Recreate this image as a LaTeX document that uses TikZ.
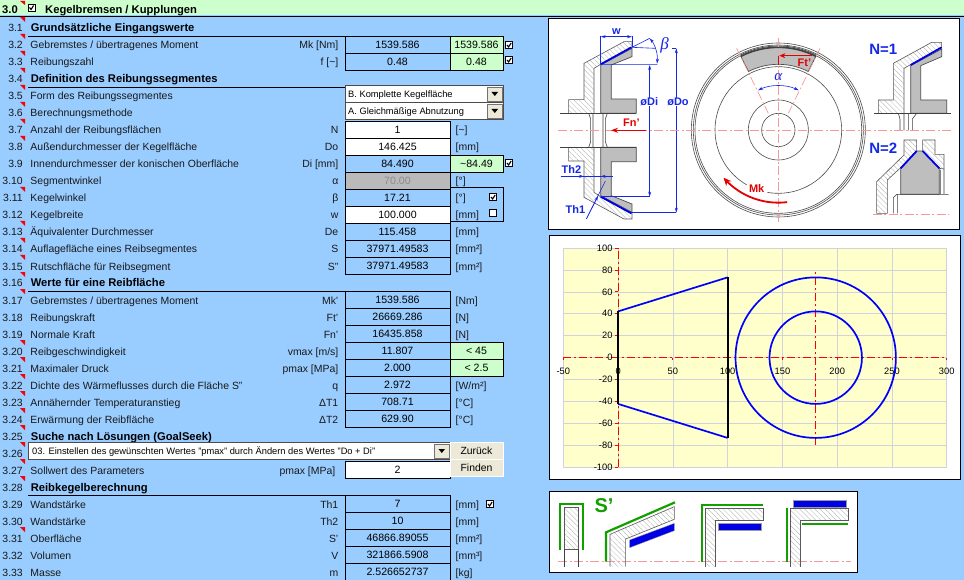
\documentclass[tikz,border=0pt]{standalone}
\usepackage{fontspec}
\setmainfont{Liberation Sans}
\newfontfamily\grk{Liberation Serif}
\usetikzlibrary{patterns.meta,arrows.meta}
\definecolor{bgblue}{HTML}{99CCFF}
\definecolor{lgreen}{HTML}{CCFFCC}
\definecolor{lyellow}{HTML}{FFFFCC}
\definecolor{btn}{HTML}{ECE9D8}
\definecolor{gfill}{HTML}{BEBEBE}
\definecolor{dimblue}{HTML}{1428E6}
\definecolor{sgreen}{HTML}{12A000}
\definecolor{lred}{HTML}{F49A9A}
\definecolor{gridc}{HTML}{D2D2DC}
\tikzset{
 txt/.style={font=\fontsize{10.45}{12}\selectfont,inner sep=0pt,text=black!90},
 lab/.style={txt,anchor=base west},
 num/.style={txt,anchor=base east},
 symb/.style={txt,anchor=base east},
 unit/.style={txt,anchor=base west},
 head/.style={font=\bfseries\fontsize{11.2}{12}\selectfont,inner sep=0pt,anchor=base west},
 cell/.style={draw=black,line width=.8pt,minimum width=105pt,minimum height=17pt,inner sep=0pt,font=\fontsize{10.6}{12}\selectfont,anchor=center},
 gcell/.style={cell,fill=lgreen,minimum width=53pt},
 wcell/.style={cell,fill=white},
 chk/.style={draw=black,fill=white,line width=.9pt,minimum size=7pt,inner sep=0pt},
 tick/.style={chk,path picture={\draw[line width=1.1pt] ([shift={(1.5pt,3.5pt)}]path picture bounding box.south west)--++(1.6pt,-2pt)--++(2.5pt,4pt);}},
 combo/.style={draw=black!70,line width=.6pt,fill=white},
 drop/.style={fill=btn,draw=black!55,line width=.5pt},
 dd/.style={inner sep=0pt,anchor=base west,font=\fontsize{9.3}{11}\selectfont},
 btnn/.style={draw=white,fill=btn,line width=.5pt,inner sep=0pt,font=\fontsize{10.4}{12}\selectfont,minimum width=53pt,minimum height=17pt},
 panel/.style={draw=black,line width=1pt,fill=white},
 thin/.style={draw=black!75,line width=.6pt},
 hatched/.style={draw=black!65,line width=.6pt,pattern={Lines[angle=-45,distance=3.6pt,line width=.3pt]},pattern color=black!32},
 solidg/.style={draw=black!70,line width=.7pt,fill=gfill},
 bthick/.style={draw=blue!90!black,line width=1.8pt},
 dimb/.style={draw=dimblue,line width=.6pt},
 redc/.style={draw=lred,line width=.7pt,dash pattern=on 9pt off 2.5pt on 2pt off 2.5pt},
 axisred/.style={draw=red,line width=.9pt,dash pattern=on 8pt off 3pt on 2pt off 3pt},
 blab/.style={text=dimblue,font=\bfseries\fontsize{11}{12}\selectfont,inner sep=0pt},
 rlab/.style={text=red!90!black,font=\bfseries\fontsize{11}{12}\selectfont,inner sep=0pt},
 nlab/.style={text=dimblue,font=\bfseries\fontsize{15}{16}\selectfont,inner sep=0pt},
 ax/.style={inner sep=0pt,font=\fontsize{9.3}{11}\selectfont},
 sline/.style={draw=sgreen,line width=2.2pt,line join=miter},
 bfill/.style={fill=blue!90!black,draw=black!40,line width=.3pt},
}
\newcommand\cy[1]{\the\numexpr 11+17*#1\relax}
\newcommand\by[1]{\the\numexpr 15+17*#1\relax}
\newcommand\rowt[3]{%
 \node[num] (n#1) at (23,\by{#1}) {3.#1};
 \node[lab] (l#1) at (30.3,\by{#1}) {#2};
 \node[symb] (s#1) at (338.5,\by{#1}) {#3};}
\newcommand\val[3][]{\node[cell,#1] (v#2) at (397.5,\cy{#2}) {#3};}
\newcommand\gv[2]{\node[gcell] (g#1) at (476.5,\cy{#1}) {#2};}
\newcommand\un[2]{\node[unit] (u#1) at (455.5,\by{#1}) {#2};}
\newcommand\hd[3]{%
 \node[num] (n#1) at (23,\by{#1}) {3.#1};
 \node[head] (h#1) at (30.6,\by{#1}) {#2};
 \draw[line width=.8pt] (28,\the\numexpr 19+17*#1\relax.5) -- (#3,\the\numexpr 19+17*#1\relax.5);}
\begin{document}
\begin{tikzpicture}[x=1pt,y=-1pt]
\useasboundingbox (0,0) rectangle (964,580);
\fill[bgblue] (0,0) rectangle (964,580);
% header band
\fill[lgreen] (0,0) rectangle (964,15.5);
\draw[line width=1.6pt] (0,16.4) -- (964,16.4);
\node[head,anchor=base east] (n0) at (18,14) {3.0};
\node[chk,tick] (c0) at (31.5,7.5) {};
\node[head] (h0) at (45,14) {Kegelbremsen / Kupplungen};
% red corner marks
\foreach \k in {1,2,3,4,5,6,7,8,11,13,14,15,16,17,20,21,22,23,24,25,26,27,28,31}{
 \fill[red] (20,\the\numexpr 17*\k\relax) -- (25,\the\numexpr 17*\k\relax) -- (25,\the\numexpr 17*\k+5\relax) -- cycle;}
\fill[red] (20,1) -- (25,1) -- (25,5) -- cycle;
% rows
\hd{1}{Grundsätzliche Eingangswerte}{345}
\rowt{2}{Gebremstes / übertragenes Moment}{Mk [Nm]}
\val{2}{1539.586}\gv{2}{1539.586}\node[chk,tick] (c2) at (509,45) {};
\rowt{3}{Reibungszahl}{f [\textasciitilde]}
\val{3}{0.48}\gv{3}{0.48}\node[chk,tick] (c3) at (509,60) {};
\hd{4}{Definition des Reibungssegmentes}{345}
\rowt{5}{Form des Reibungssegmentes}{}
\draw[combo] (345,85.5) rectangle (503,102.5);
\draw[drop] (487.5,87) rectangle (502,101);
\fill (491.5,92) -- (498,92) -- (494.8,96) -- cycle;
\node[dd] (d5) at (348,97.5) {B. Komplette Kegelfläche};
\rowt{6}{Berechnungsmethode}{}
\draw[combo] (345,102.5) rectangle (503,119.5);
\draw[drop] (487.5,104) rectangle (502,118);
\fill (491.5,109) -- (498,109) -- (494.8,113) -- cycle;
\node[dd] (d6) at (348,114.5) {A. Gleichmäßige Abnutzung};
\rowt{7}{Anzahl der Reibungsflächen}{N}
\val[fill=white]{7}{1}\un{7}{[\textasciitilde]}
\rowt{8}{Außendurchmesser der Kegelfläche}{Do}
\val[fill=white]{8}{146.425}\un{8}{[mm]}
\rowt{9}{Innendurchmesser der konischen Oberfläche}{Di [mm]}
\val{9}{84.490}\gv{9}{\textasciitilde 84.49}\node[chk,tick] (c9) at (509,163) {};
\rowt{10}{Segmentwinkel}{α}
\val[fill=black!27,text=black!45]{10}{70.00}\un{10}{[°]}
\rowt{11}{Kegelwinkel}{β}
\val{11}{17.21}\un{11}{[°]}
\rowt{12}{Kegelbreite}{w}
\val[fill=white]{12}{100.000}\un{12}{[mm]}
\draw[line width=.8pt] (450,187.5) rectangle (503,221.5);
\node[chk,tick] (c11) at (493,197) {};
\node[chk] (c12) at (493,213) {};
\rowt{13}{Äquivalenter Durchmesser}{De}
\val{13}{115.458}\un{13}{[mm]}
\rowt{14}{Auflagefläche eines Reibsegmentes}{S}
\val{14}{37971.49583}\un{14}{[mm²]}
\rowt{15}{Rutschfläche für Reibsegment}{S"}
\val{15}{37971.49583}\un{15}{[mm²]}
\hd{16}{Werte für eine Reibfläche}{450}
\rowt{17}{Gebremstes / übertragenes Moment}{Mk'}
\val{17}{1539.586}\un{17}{[Nm]}
\rowt{18}{Reibungskraft}{Ft'}
\val{18}{26669.286}\un{18}{[N]}
\rowt{19}{Normale Kraft}{Fn'}
\val{19}{16435.858}\un{19}{[N]}
\rowt{20}{Reibgeschwindigkeit}{vmax [m/s]}
\val{20}{11.807}\gv{20}{< 45}
\rowt{21}{Maximaler Druck}{pmax [MPa]}
\val{21}{2.000}\gv{21}{< 2.5}
\rowt{22}{Dichte des Wärmeflusses durch die Fläche S"}{q}
\val{22}{2.972}\un{22}{[W/m²]}
\rowt{23}{Annähernder Temperaturanstieg}{ΔT1}
\val{23}{708.71}\un{23}{[°C]}
\rowt{24}{Erwärmung der Reibfläche}{ΔT2}
\val{24}{629.90}\un{24}{[°C]}
\hd{25}{Suche nach Lösungen (GoalSeek)}{28}
\node[num] (n26) at (23,\by{26}) {3.26};
\draw[combo] (28,442.5) rectangle (450,459.5);
\draw[drop] (434.5,444) rectangle (449,458);
\fill (438.5,449) -- (445,449) -- (441.8,453) -- cycle;
\node[dd] (d26) at (32,454.5) {03. Einstellen des gewünschten Wertes "pmax" durch Ändern des Wertes "Do + Di"};
\node[btnn] (bz) at (476.5,451) {Zurück};
\rowt{27}{Sollwert des Parameters}{}
\node[symb] (s27) at (335.5,\by{27}) {pmax [MPa]};
\val[fill=white]{27}{2}
\node[btnn] (bf) at (476.5,468) {Finden};
\hd{28}{Reibkegelberechnung}{450}
\rowt{29}{Wandstärke}{Th1}
\val{29}{7}\un{29}{[mm]}\node[chk,tick] (c29) at (490,504) {};
\rowt{30}{Wandstärke}{Th2}
\val{30}{10}\un{30}{[mm]}
\rowt{31}{Oberfläche}{S'}
\val{31}{46866.89055}\un{31}{[mm²]}
\rowt{32}{Volumen}{V}
\val{32}{321866.5908}\un{32}{[mm³]}
\rowt{33}{Masse}{m}
\val{33}{2.526652737}\un{33}{[kg]}
% ---------- panel 1
\draw[panel] (548.5,19) rectangle (959.5,229.5);
\begin{scope}[shift={(548,15)},x=.33333pt,y=-.33333pt]
 % upper section
 \path[hatched] (62,295)--(62,254)--(108,254)--(108,145)--(228,80)--(252,80)--(252,97)--(158,148)--(138,160)--(138,295)--cycle;
 \path[solidg] (158,150)--(252,100)--(252,125)--(190,150)--(190,252)--(265,252)--(265,295)--(158,295)--cycle;
 % lower section
 \path[hatched] (62,397)--(62,438)--(108,438)--(108,547)--(228,612)--(252,612)--(252,595)--(158,545)--(138,532)--(138,397)--cycle;
 \path[solidg] (158,542)--(252,592)--(252,567)--(190,542)--(190,440)--(265,440)--(265,397)--(158,397)--cycle;
 \draw[thin] (35,295)--(265,295) (35,397)--(265,397);
 \draw[thin] (122,295)--(128,312)--(128,380)--(122,397) (135,295)--(135,397);
 \draw[thin] (178,295)--(172,312)--(172,380)--(178,397) (165,295)--(165,397);
 \draw[bthick] (158,148)--(250,97) (158,545)--(250,595);
 % dims
 \draw[dimb,{Stealth[length=5pt,width=3pt]}-{Stealth[length=5pt,width=3pt]}] (158,65)--(252,65);
 \draw[dimb] (158,62)--(158,148) (252,62)--(252,97);
 \node[blab] (tw) at (205,50) {w};
 \draw[dimb] (252,97)--(305,70) (158,148)--(328,148) (252,97)--(322,100);
 \draw[dimb,{Stealth[length=5pt,width=3pt]}-{Stealth[length=5pt,width=3pt]}] (305,70) .. controls (322,90) and (330,120) .. (327,146);
 \node[text=dimblue,font=\grk\itshape\fontsize{17}{18}\selectfont,inner sep=0pt] (tb) at (350,92) {β};
 \draw[dimb,{Stealth[length=5pt,width=3pt]}-{Stealth[length=5pt,width=3pt]}] (305,150)--(305,545);
 \draw[dimb] (158,545)--(305,545);
 \draw[dimb,{Stealth[length=5pt,width=3pt]}-{Stealth[length=5pt,width=3pt]}] (385,100)--(385,593);
 \draw[dimb] (372,100)--(385,100) (250,593)--(385,593);
 \node[blab,fill=white,inner xsep=.5pt] (tdi) at (304,260) {øDi};
 \node[blab,fill=white,inner xsep=.5pt] (tdo) at (390,260) {øDo};
 \node[rlab] (tfn) at (250,322) {Fn'};
 \node[blab] (th2) at (70,465) {Th2};
 \draw[dimb] (38,484)--(195,484);
 \draw[dimb,-{Stealth[length=5pt,width=3pt]}] (80,484)--(108,484);
 \draw[dimb,-{Stealth[length=5pt,width=3pt]}] (185,484)--(158,484);
 \node[blab] (th1) at (82,583) {Th1};
 \draw[dimb] (115,612)--(172,498);
 \draw[dimb,-{Stealth[length=5pt,width=3pt]}] (115,612)--(150,543);
\end{scope}
\begin{scope}[shift={(680,15)},x=.33333pt,y=-.33333pt]
 % main disc
 \foreach \r in {261,255,250}{\draw[black!70,line width=.6pt] (295,345) circle[radius=\r];}
 \path[solidg] plot[domain=-117:-63,samples=25] ({295+252*cos(\x)},{345+252*sin(\x)}) -- plot[domain=-63:-117,samples=25] ({295+197*cos(\x)},{345+197*sin(\x)}) -- cycle;
 \draw[black!75,line width=1.6pt] plot[domain=-117:-63,samples=25] ({295+248*cos(\x)},{345+248*sin(\x)});
 \draw[black!70,line width=.6pt] plot[domain=100:-240,samples=90] ({295+190*cos(\x)},{345+190*sin(\x)});
 \draw[black!70,line width=.6pt] (295,345) circle[radius=90];
 \draw[black!70,line width=.6pt] (295,345) circle[radius=50];
 \draw[redc] (295,70)--(295,620);
 \draw[redc] (170,100)--(265,295) (420,100)--(325,295);
 \draw[red!90!black,line width=.8pt,-{Stealth[length=6pt,width=5pt]}] (395,122)--(298,122);
 \draw[red!90!black,line width=.8pt] (295,122)--(295,150);
 \node[rlab] (tft) at (373,142) {Ft'};
 \node[text=dimblue,font=\grk\itshape\fontsize{15}{16}\selectfont,inner sep=0pt] (ta) at (295,185) {α};
 \draw[dimb,{Stealth[length=5pt,width=3pt]}-{Stealth[length=5pt,width=3pt]}] (234,226) .. controls (270,208) and (320,208) .. (356,226);
 \node[rlab] (tmk) at (230,520) {Mk};
 \draw[red!90!black,line width=1.8pt,-{Stealth[length=8pt,width=7pt]}] plot[domain=83:139,samples=30] ({295+218*cos(\x)},{345+218*sin(\x)});
 % N=1
 \node[nlab] (tn1) at (610,103) {N=1};
 \path[hatched] (595,295)--(595,255)--(640,255)--(640,145)--(755,82)--(785,82)--(785,97)--(690,150)--(672,160)--(672,295)--cycle;
 \path[solidg] (692,152)--(785,102)--(785,125)--(722,152)--(722,255)--(800,255)--(800,295)--(692,295)--cycle;
 \draw[bthick] (692,150)--(785,97);
 \draw[thin] (582,295)--(812,295);
 \draw[thin] (655,295)--(660,312)--(660,346) (672,295)--(672,346) (697,346)--(697,312)--(710,295) (685,295)--(685,346);
 % N=2
 \node[nlab] (tn2) at (610,400) {N=2};
 \path[hatched] (672,375)--(710,375)--(710,408)--(660,460)--(622,495)--(622,595)--(590,595)--(590,500)--(672,420)--cycle;
 \path[hatched] (728,375)--(765,375)--(765,418)--(792,418)--(792,462)--(778,460)--(728,408)--cycle;
 \path[solidg] (662,460)--(710,408)--(728,408)--(778,460)--(778,538)--(662,538)--cycle;
 \draw[bthick] (662,460)--(710,408) (728,408)--(778,460);
 \draw[thin] (782,465)--(782,538) (792,462)--(792,538) (650,538)--(806,538) (640,595)--(640,548)--(650,538) (652,595)--(652,540);
 \draw[redc] (578,597)--(808,597);
\end{scope}
% centre line across panel 1
\draw[redc] (558,130.3)--(953,130.3);
\draw[red!90!black,line width=1.4pt,-{Stealth[length=7pt,width=5pt]}] (646,130.3)--(611,130.3);
% ---------- panel 2 chart
\draw[panel] (549,235.5) rectangle (960,479.5);
\fill[lyellow] (563.3,248) rectangle (946.7,467.3);
\begin{scope}[shift={(618.1,357.65)},x=1.0954pt,y=1.0965pt]
 \foreach \v in {-50,0,50,...,300}{\draw[gridc,line width=.7pt] (\v,-100)--(\v,100);}
 \foreach \v in {-100,-80,...,100}{\draw[gridc,line width=.7pt] (-50,\v)--(300,\v);}
 \draw[axisred] (-50,0)--(300,0);
 \draw[axisred] (0,-100)--(0,100);
 \draw[axisred] (180.4,-80)--(180.4,80);
 \foreach \v in {-100,-80,...,100}{\draw[red,line width=.8pt] (-3,\v)--(0,\v);\node[ax,anchor=east] (y\v) at (-5,\v) {\v};}
 \foreach \v in {-50,50,100,150,200,250,300}{\draw[red,line width=.8pt] (\v,0)--(\v,-2.5);}
 \foreach \v in {-50,0,50,...,300}{\node[ax] (x\v) at (\v,-12.3) {\v};}
 \draw[blue,line width=1.7pt] (0,42.2)--(100,73.2);
 \draw[blue,line width=1.7pt] (0,-42.2)--(100,-73.2);
 \draw[black,line width=1.8pt] (0,42.2)--(0,-42.2);
 \draw[black,line width=1.8pt] (100,73.2)--(100,-73.2);
 \draw[blue,line width=1.7pt] (180.4,0) circle[radius=73.2];
 \draw[blue,line width=1.7pt] (180.4,0) circle[radius=42.2];
\end{scope}
% ---------- panel 3
\draw[panel] (549.3,491) rectangle (857.7,572.7);
\begin{scope}[shift={(545,485)},x=.33333pt,y=-.33333pt]
 \draw[redc] (40,228)--(918,228);
 % fig 1
 \path[hatched] (58,68)--(100,68)--(100,193)--(58,193)--cycle;
 \draw[thin] (58,193)--(58,245) (100,193)--(100,245);
 \draw[sline] (45,195)--(45,57)--(113,57)--(113,195);
 % S'
 \node[text=sgreen,font=\bfseries\fontsize{20}{22}\selectfont,inner sep=0pt] (ts) at (177,62) {S'};
 % fig 2
 \path[hatched] (195,245)--(195,148)--(388,65)--(388,103)--(242,162)--(242,245);
 \draw[sline] (183,230)--(183,142)--(390,52);
 \path[bfill] (254,165)--(388,115)--(388,137)--(254,188)--cycle;
 % fig 3
 \path[hatched] (482,245)--(482,70)--(654,70)--(654,107)--(510,107)--(510,245);
 \draw[sline] (470,230)--(470,60)--(654,60);
 \path[bfill] (518,114) rectangle (648,134);
 % fig 4
 \path[hatched] (737,245)--(737,70)--(910,70)--(910,107)--(765,107)--(765,245);
 \draw[sline] (725,70)--(725,230) (772,117)--(908,117);
 \path[bfill] (745,45) rectangle (902,65);
\end{scope}
\end{tikzpicture}
\end{document}
